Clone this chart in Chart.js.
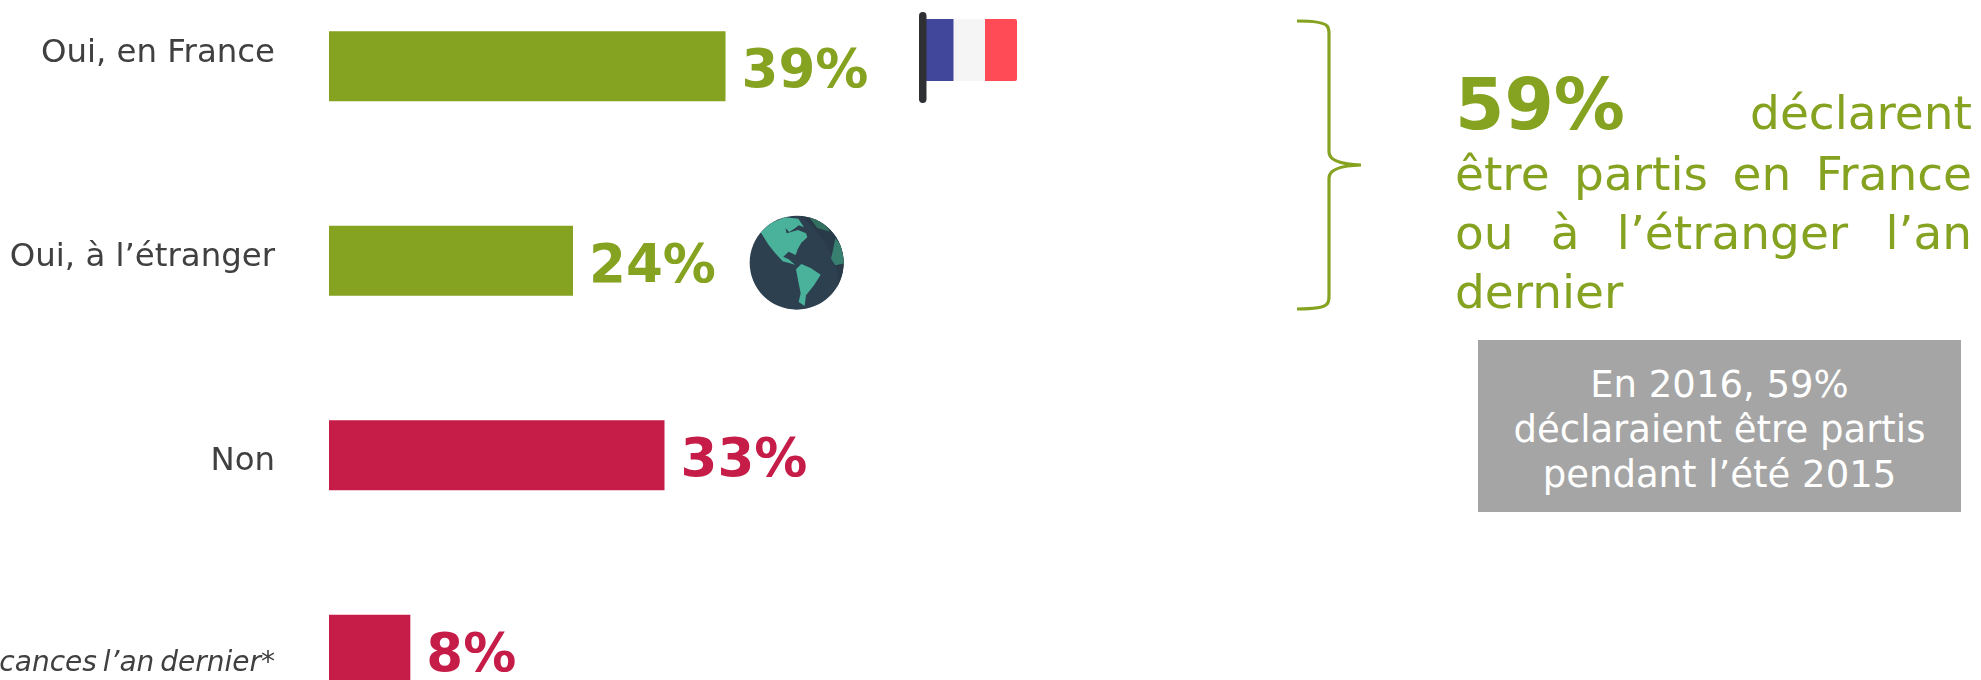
<!DOCTYPE html>
<html lang="fr">
<head>
<meta charset="utf-8">
<title>Départs en vacances</title>
<script src="https://cdn.jsdelivr.net/npm/chart.js@4"></script>
<style>
  html, body { margin:0; padding:0; background:#fff; }
  #page { position:relative; width:1981px; height:680px; overflow:hidden; font-family:"DejaVu Sans", sans-serif; }
  #chart { position:absolute; left:0; top:-31px; }
  .icon { position:absolute; }
  #summary { position:absolute; left:1455px; top:85px; width:517px; color:#85a220; font-size:47px; line-height:59px; }
  #summary div { height:59px; text-align:justify; text-align-last:justify; white-space:nowrap; }
  #summary div:first-child { position:relative; top:-5px; }
  #summary div:last-child { text-align-last:left; }
  #summary b { font-size:71px; line-height:50px; }
  #note { position:absolute; left:1478px; top:340px; width:483px; height:172px; background:#a5a5a5; color:#fff; font-size:37px; line-height:45px; text-align:center; box-sizing:border-box; padding-top:22px; }
</style>
</head>
<body>
<div id="page">
  <canvas id="chart" width="1981" height="778"></canvas>

  <!-- accolade -->
  <svg class="icon" style="left:1290px;top:14px" width="80" height="304" viewBox="0 0 80 304">
    <path d="M7,7 Q33,7 37,12 Q39,14 39,20 L39,138 Q39,150 71,151 Q39,152 39,164 L39,282 Q39,288 37,290 Q33,295 7,295" fill="none" stroke="#85a220" stroke-width="3.2"/>
  </svg>

  <!-- drapeau -->
  <svg class="icon" style="left:915px;top:8px" width="110" height="100" viewBox="0 0 110 100">
    <rect x="11" y="11" width="28" height="62" fill="#41479b"/>
    <rect x="38.500" y="11" width="32" height="62" fill="#f5f5f5"/>
    <path d="M70,11 H100 Q102,11 102,13 V71 Q102,73 100,73 H70 Z" fill="#ff4b55"/>
    <rect x="4" y="4" width="7.500" height="91" rx="3.700" fill="#2e3033"/>
  </svg>

  <!-- globe -->
  <svg class="icon" style="left:730px;top:200px" width="130" height="120" viewBox="0 0 390 360">
    <defs><clipPath id="disc"><circle cx="200" cy="188" r="141"/></clipPath></defs>
    <circle cx="200" cy="188" r="141" fill="#2c4050"/>
    <g clip-path="url(#disc)">
      <path d="M200,40 Q300,110 325,230 Q325,290 270,330 L400,340 L400,40 Z" fill="#293a49"/>
      <path d="M232,44 L272,52 L300,95 L262,84 Z" fill="#33705f"/>
      <path d="M316,115 L332,135 L345,190 L316,196 L303,176 L309,150 Z" fill="#37806f"/>
      <path d="M92,97 L122,70 L165,52 L205,56 L222,82 L206,76 L196,84 L178,96 L166,84 L170,100 L204,90 L228,100 L232,112 L214,128 L203,148 L197,165 L176,155 L160,170 L176,178 L196,195 L180,190 L158,184 L136,160 L116,135 Z" fill="#4ab29a"/>
      <path d="M198,208 L214,192 L242,204 L272,224 L252,256 L228,286 L224,318 L206,306 L212,280 L204,240 Z" fill="#4ab29a"/>
    </g>
  </svg>

  <div id="summary">
    <div><b>59%</b> déclarent</div>
    <div>être partis en France</div>
    <div>ou à l’étranger l’an</div>
    <div>dernier</div>
  </div>

  <div id="note">En 2016, 59%<br>déclaraient être partis<br>pendant l’été 2015</div>
</div>

<script>
// values
const categories = ['Oui, en France', 'Oui, à l’étranger', 'Non', 'Je ne suis pas parti en vacances l’an dernier*'];
const percents = [39, 24, 33, 8];

const GREEN = '#85a220';
const RED = '#c51c48';
const barColors = [GREEN, GREEN, RED, RED];

// the category labels do not sit exactly on the bar centres in the original
const labelShift = [-13, -3, 6, 14];

// category labels and the big percentages, placed through the chart's own scales
const barText = {
  id: 'barText',
  afterDatasetsDraw(chart){
    const ctx = chart.ctx;
    const x = chart.scales.x, y = chart.scales.y;
    ctx.save();
    ctx.textBaseline = 'middle';
    percents.forEach((v, i) => {
      const py = y.getPixelForValue(i);
      ctx.textAlign = 'right';
      ctx.fillStyle = '#404040';
      ctx.font = i === 3 ? 'italic 28px "DejaVu Sans"' : '32.400px "DejaVu Sans"';
      ctx.wordSpacing = i === 3 ? '-3px' : '0px';
      ctx.fillText(categories[i], 275, py + labelShift[i]);
      ctx.wordSpacing = '0px';
      ctx.textAlign = 'left';
      ctx.fillStyle = barColors[i];
      ctx.font = 'bold 53px "DejaVu Sans"';
      ctx.fillText(v + '%', x.getPixelForValue(v) + 16, py + 7);
    });
    ctx.restore();
  }
};

new Chart(document.getElementById('chart'), {
  type: 'bar',
  data: {
    labels: categories,
    datasets: [{ data: percents, backgroundColor: barColors, borderWidth: 0, categoryPercentage: 1, barPercentage: 0.36 }]
  },
  options: {
    indexAxis: 'y',
    responsive: false,
    animation: false,
    layout: { padding: { left: 329, right: 1042, top: 0, bottom: 0 } },
    plugins: { legend: { display: false }, tooltip: { enabled: false } },
    scales: {
      x: { display: false, min: 0, max: 60 },
      y: { display: false }
    }
  },
  plugins: [barText]
});
</script>
</body>
</html>
